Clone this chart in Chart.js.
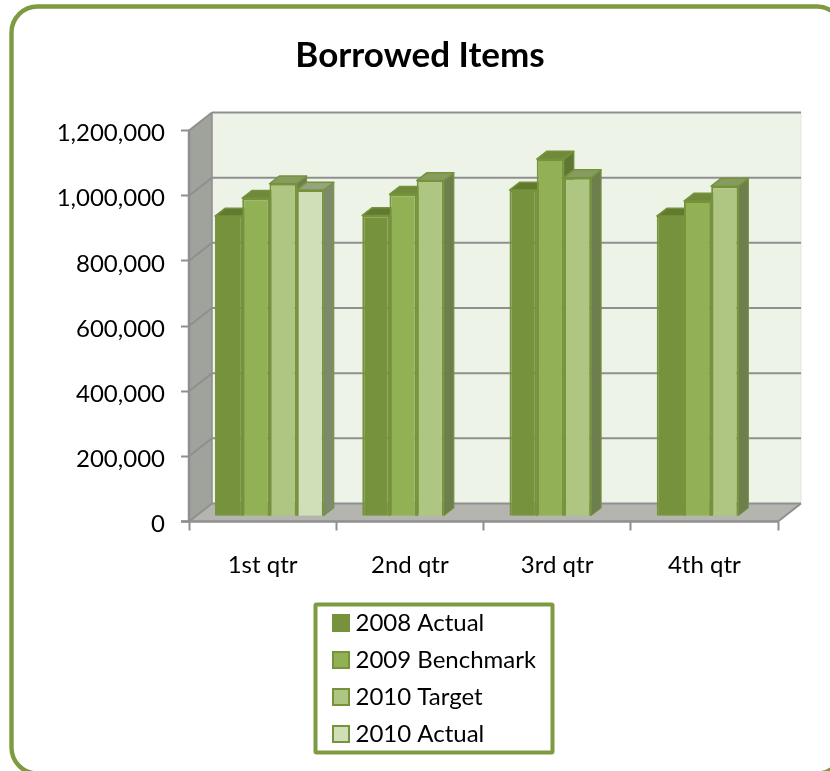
<!DOCTYPE html>
<html><head><meta charset="utf-8">
<style>html,body{margin:0;padding:0;background:#fff;overflow:hidden}#w{position:absolute;left:0;top:0;width:830px;height:771px}</style>
<script src="https://cdn.jsdelivr.net/npm/chart.js@4"></script></head>
<body><div id="w"><canvas id="c" width="830" height="771"></canvas></div>
<script>
const chartTitle = 'Borrowed Items';
const categories = ['1st qtr','2nd qtr','3rd qtr','4th qtr'];
const actual2008 = [921000, 923000, 1001000, 921000];
const benchmark2009 = [976000, 988000, 1096000, 967000];
const target2010 = [1020000, 1030000, 1039000, 1013000];
const actual2010 = [1001000, null, null, null];
const seriesNames = ['2008 Actual','2009 Benchmark','2010 Target','2010 Actual'];
const seriesFill = ['#76923c','#92b054','#afc682','#d0dfb8'];
const seriesTop = ['#617a30','#6f8a3a','#869c5e','#95a37e'];
const seriesSide = ['#566b2c','#5f7831','#6e7f4e','#7d8a6c'];
const STROKE = '#76933c', GREY = '#8f8f8f';
const WALL = {dx:23, dy:-18}, FRONT = {dx:6.8, dy:-5.3}, DEPTH = {dx:10, dy:-7.8};
const FONT = 'Lato', SIZE = 24;

function poly(ctx, pts, fill, stroke, lw){
  ctx.beginPath();
  pts.forEach((p,i)=> i?ctx.lineTo(p[0],p[1]):ctx.moveTo(p[0],p[1]));
  ctx.closePath();
  if(fill){ctx.fillStyle=fill;ctx.fill();}
  if(stroke){ctx.strokeStyle=stroke;ctx.lineWidth=lw||1;ctx.lineJoin='round';ctx.stroke();}
}
function line(ctx,x1,y1,x2,y2,c,w){ctx.beginPath();ctx.moveTo(x1,y1);ctx.lineTo(x2,y2);ctx.strokeStyle=c;ctx.lineWidth=w;ctx.stroke();}

const scene = {
  id:'scene',
  afterLayout(chart){
    const lg = chart.legend, pad = lg.options.labels.padding;
    lg.left = 338.5 - pad; lg.right = lg.left + 210;
    lg.top = 623 - 12 - pad; lg.bottom = lg.top + 200;
    chart.scales.y.left = 30; // tick labels are clipped to the scale box
  },
  beforeDraw(chart){
    const ctx = chart.ctx; ctx.save();
    ctx.beginPath(); ctx.roundRect(11.5,6.5,831.5,767,26);
    ctx.strokeStyle='#7f9b41'; ctx.lineWidth=4.4; ctx.stroke();
    ctx.beginPath(); ctx.roundRect(315.5,604.5,237,148,1);
    ctx.strokeStyle='#7f9b41'; ctx.lineWidth=4; ctx.stroke();
    ctx.restore();
  },
  beforeDatasetsDraw(chart){
    const ctx = chart.ctx, a = chart.chartArea, y = chart.scales.y;
    const L=a.left,R=a.right,T=a.top,B=a.bottom,dx=WALL.dx,dy=WALL.dy;
    ctx.save();
    poly(ctx,[[L+dx,T+dy],[R+dx,T+dy],[R+dx,B+dy],[L+dx,B+dy]],'#eef3e8');
    line(ctx,R+dx,T+dy,R+dx,B+dy,'#e2e6dd',1);
    poly(ctx,[[L,T],[L+dx,T+dy],[L+dx,B+dy],[L,B]],'#a0a29c');
    poly(ctx,[[L,B],[L+dx,B+dy],[R+dx,B+dy],[R,B]],'#b3b5ae');
    y.ticks.forEach(t=>{
      const py = y.getPixelForValue(t.value);
      line(ctx,L,py,L+dx,py+dy,GREY,2);
      line(ctx,L+dx,py+dy,R+dx,py+dy,GREY,2);
    });
    line(ctx,L+dx,T+dy,L+dx,B+dy,GREY,1.5);
    line(ctx,L,T,L,B,GREY,2.5);
    line(ctx,L-8,B,R,B,GREY,2.5);
    line(ctx,R,B,R+dx,B+dy,GREY,2);
    // bars are painted left to right so each one overlaps the depth of its neighbour
    const ddx=DEPTH.dx, ddy=DEPTH.dy;
    ctx.translate(FRONT.dx,FRONT.dy);
    chart.data.datasets.forEach((ds,i)=>{
      const m = chart.getDatasetMeta(i);
      m.data.forEach((b,j)=>{
        if(ds.data[j]==null) return;
        const l=b.x-b.width/2, r=b.x+b.width/2, t=b.y, bt=b.base;
        poly(ctx,[[r,t],[r+ddx,t+ddy],[r+ddx,bt+ddy],[r,bt]],seriesSide[i],STROKE,1);
        poly(ctx,[[l,t],[l+ddx,t+ddy],[r+ddx,t+ddy],[r,t]],seriesTop[i],STROKE,1.5);
      });
      m.controller.draw();
    });
    ctx.restore();
  },
  beforeDatasetDraw(){ return false; }
};

new Chart(document.getElementById('c'),{
  type:'bar',
  data:{labels:categories,datasets:[actual2008,benchmark2009,target2010,actual2010].map((d,i)=>({
    label:seriesNames[i],data:d,backgroundColor:seriesFill[i],borderColor:STROKE,borderWidth:2,
    barPercentage:1,categoryPercentage:0.739,pointStyle:'rect'
  }))},
  options:{
    responsive:false,animation:false,
    layout:{padding:{left:62,right:52,top:0,bottom:0}},
    plugins:{
      tooltip:{enabled:false},
      title:{display:true,text:chartTitle,color:'#000',align:'center',
        font:{family:FONT,size:35,weight:'bold',lineHeight:1.2},padding:{top:35,bottom:53.5}},
      legend:{display:true,position:'chartArea',align:'start',
        labels:{font:{family:FONT,size:SIZE,lineHeight:1.2},color:'#000',padding:13,
          usePointStyle:true,boxWidth:5,boxHeight:16}}
    },
    scales:{
      x:{offset:true,
        grid:{display:true,offset:true,drawOnChartArea:false,drawTicks:true,tickLength:9,tickColor:GREY,tickWidth:2},
        border:{display:false},
        ticks:{color:'#000',font:{family:FONT,size:SIZE},padding:20,maxRotation:0},
        afterFit(s){ s.height = 771-521.5; }
      },
      y:{min:0,max:1200000,
        grid:{display:true,drawOnChartArea:false,drawTicks:true,tickLength:8,tickColor:GREY,tickWidth:2},
        border:{display:false},
        ticks:{stepSize:200000,color:'#000',font:{family:FONT,size:SIZE},padding:16,labelOffset:3,
          callback:v=>v.toLocaleString('en-US')},
        afterFit(s){ s.width = 127; }
      }
    }
  },
  plugins:[scene]
});
</script></body></html>
